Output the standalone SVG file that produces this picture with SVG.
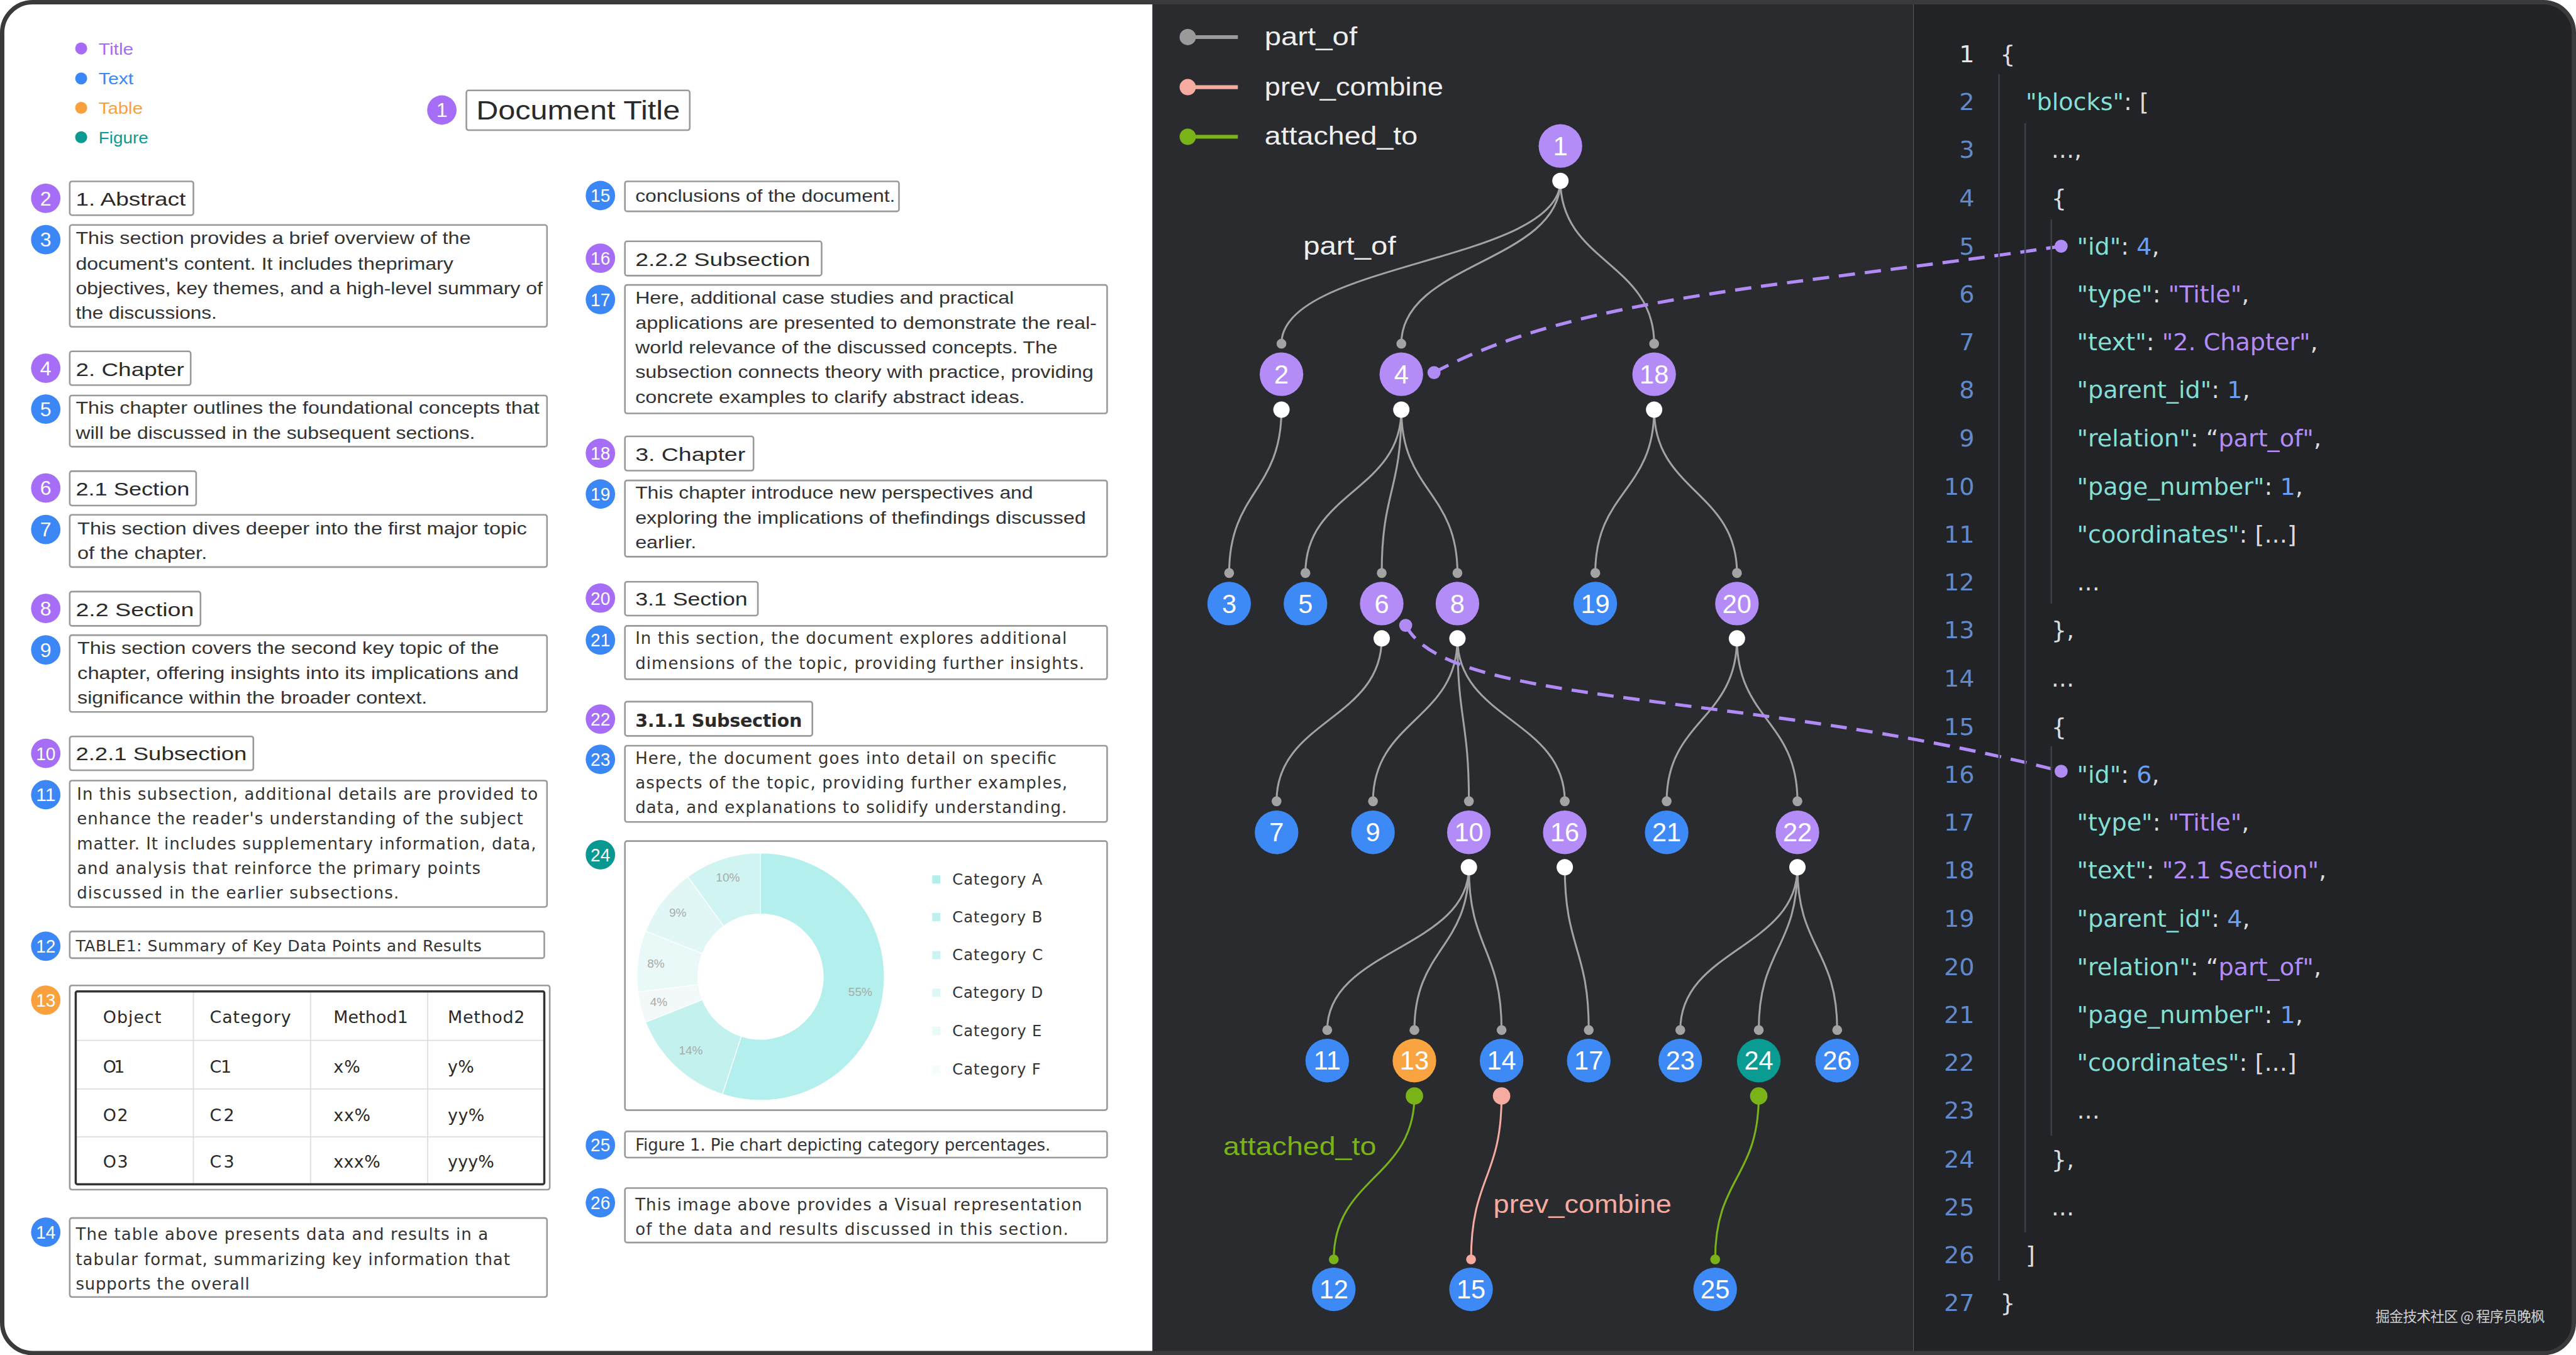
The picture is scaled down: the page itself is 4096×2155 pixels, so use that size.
<svg xmlns="http://www.w3.org/2000/svg" width="4096" height="2155" viewBox="0 0 4096 2155">
<defs>
<style>
.box{fill:#fff;stroke:#9a9a9a;stroke-width:3}
.t1{font-family:'Liberation Sans',Arial,sans-serif;font-size:31px;fill:#333}
.h1{font-family:'Liberation Sans',Arial,sans-serif;font-size:35px;fill:#2a2a2a}
.t2{font-family:'DejaVu Sans',sans-serif;font-size:30px;fill:#333}
.tb{font-family:'DejaVu Sans',sans-serif;font-size:31px;fill:#2a2a2a}
.bp{fill:#a66ef6}.bb{fill:#3b87f5}.bo{fill:#f9a03f}.bt{fill:#069891}
.bn{font-family:'Liberation Sans',Arial,sans-serif;font-size:37px;fill:#fff;text-anchor:middle}
.bn2{font-family:'Liberation Sans',Arial,sans-serif;font-size:34px;fill:#fff;text-anchor:middle}
.edge{fill:none;stroke:#a3a3a3;stroke-width:3.5}
.np{fill:#b48cf7}.nb{fill:#3d8af7}.no{fill:#f9a440}.nt{fill:#0a9b93}
.nd{font-family:'Liberation Sans',Arial,sans-serif;font-size:48px;fill:#fff;text-anchor:middle}
.wd{fill:#fff}.gd{fill:#a3a3a3}
.dash{fill:none;stroke:#b08af5;stroke-width:6;stroke-dasharray:30 18}
.lg{font-family:'Liberation Sans',Arial,sans-serif;font-size:46px;fill:#eeeeee}
.code{font-family:'DejaVu Sans',sans-serif;font-size:44px;fill:#dcdcdc}
.ln{font-family:'DejaVu Sans',sans-serif;font-size:44px;fill:#6289c9;text-anchor:end}
.k{fill:#86dfd5}.v{fill:#b48cf7}.n{fill:#6d9ff0}
.guide{stroke:#3c3f45;stroke-width:3}
.cell{stroke:#dddddd;stroke-width:2}
.pl{font-family:'Liberation Sans',Arial,sans-serif;font-size:22px;fill:#aaaaaa;text-anchor:middle}
</style>
<clipPath id="frame"><rect x="4" y="4" width="4720" height="2480" rx="56"/></clipPath>
</defs>
<g transform="scale(0.86633)">
<rect x="0" y="0" width="4728" height="2488" fill="#ffffff"/>
<g clip-path="url(#frame)">
<rect x="0" y="0" width="2115" height="2488" fill="#ffffff"/>
<rect x="2115" y="0" width="1397" height="2488" fill="#2a2b2f"/>
<rect x="3512" y="0" width="1216" height="2488" fill="#212326"/>
</g>
<rect x="4" y="4" width="4720" height="2480" rx="56" fill="none" stroke="#3a3a3c" stroke-width="8"/>

<!-- left legend -->
<g id="legend-left">
<circle cx="149" cy="89" r="11" fill="#a66cf5"/><text x="181" y="100" class="t1" style="fill:#a66cf5;font-size:30px" textLength="64" lengthAdjust="spacingAndGlyphs">Title</text>
<circle cx="149" cy="144" r="11" fill="#3a87f7"/><text x="181" y="155" class="t1" style="fill:#3a87f7;font-size:30px" textLength="64" lengthAdjust="spacingAndGlyphs">Text</text>
<circle cx="149" cy="198" r="11" fill="#f8a13c"/><text x="181" y="209" class="t1" style="fill:#f8a13c;font-size:30px" textLength="81" lengthAdjust="spacingAndGlyphs">Table</text>
<circle cx="149" cy="252" r="11" fill="#0b9a92"/><text x="181" y="263" class="t1" style="fill:#0b9a92;font-size:30px" textLength="91" lengthAdjust="spacingAndGlyphs">Figure</text>
</g>

<!-- left document blocks -->
<g id="block1"><circle cx="811" cy="202" r="27" class="bp"/><text x="811" y="215" class="bn">1</text>
<rect x="856" y="166" width="410" height="73" rx="4" class="box"/><text x="874" y="219" class="h1" style="font-size:48px" textLength="374" lengthAdjust="spacingAndGlyphs">Document Title</text></g>

<g id="block2"><circle cx="84" cy="364" r="27" class="bp"/><text x="84" y="377" class="bn">2</text>
<rect x="128" y="333" width="227" height="62" rx="4" class="box"/><text x="139" y="377" class="h1" textLength="202" lengthAdjust="spacingAndGlyphs">1. Abstract</text></g>

<g id="block3"><circle cx="84" cy="440" r="27" class="bb"/><text x="84" y="453" class="bn">3</text>
<rect x="128" y="413" width="876" height="187" rx="4" class="box"/>
<text x="139" y="448" class="t1" textLength="725" lengthAdjust="spacingAndGlyphs">This section provides a brief overview of the</text>
<text x="139" y="495" class="t1" textLength="693" lengthAdjust="spacingAndGlyphs">document's content. It includes theprimary</text>
<text x="139" y="540" class="t1" textLength="857" lengthAdjust="spacingAndGlyphs">objectives, key themes, and a high-level summary of</text>
<text x="139" y="585" class="t1" textLength="259" lengthAdjust="spacingAndGlyphs">the discussions.</text></g>

<g id="block4"><circle cx="84" cy="676" r="27" class="bp"/><text x="84" y="689" class="bn">4</text>
<rect x="128" y="645" width="222" height="62" rx="4" class="box"/><text x="139" y="690" class="h1" textLength="199" lengthAdjust="spacingAndGlyphs">2. Chapter</text></g>

<g id="block5"><circle cx="84" cy="751" r="27" class="bb"/><text x="84" y="764" class="bn">5</text>
<rect x="128" y="726" width="876" height="94" rx="4" class="box"/>
<text x="139" y="760" class="t1" textLength="851" lengthAdjust="spacingAndGlyphs">This chapter outlines the foundational concepts that</text>
<text x="139" y="806" class="t1" textLength="733" lengthAdjust="spacingAndGlyphs">will be discussed in the subsequent sections.</text></g>

<g id="block6"><circle cx="84" cy="896" r="27" class="bp"/><text x="84" y="909" class="bn">6</text>
<rect x="128" y="865" width="232" height="63" rx="4" class="box"/><text x="139" y="910" class="h1" textLength="209" lengthAdjust="spacingAndGlyphs">2.1 Section</text></g>

<g id="block7"><circle cx="84" cy="972" r="27" class="bb"/><text x="84" y="985" class="bn">7</text>
<rect x="128" y="945" width="876" height="96" rx="4" class="box"/>
<text x="142" y="981" class="t1" textLength="825" lengthAdjust="spacingAndGlyphs">This section dives deeper into the first major topic</text>
<text x="142" y="1026" class="t1" textLength="238" lengthAdjust="spacingAndGlyphs">of the chapter.</text></g>

<g id="block8"><circle cx="84" cy="1117" r="27" class="bp"/><text x="84" y="1130" class="bn">8</text>
<rect x="128" y="1086" width="240" height="63" rx="4" class="box"/><text x="139" y="1131" class="h1" textLength="217" lengthAdjust="spacingAndGlyphs">2.2 Section</text></g>

<g id="block9"><circle cx="84" cy="1193" r="27" class="bb"/><text x="84" y="1206" class="bn">9</text>
<rect x="128" y="1166" width="876" height="141" rx="4" class="box"/>
<text x="142" y="1201" class="t1" textLength="774" lengthAdjust="spacingAndGlyphs">This section covers the second key topic of the</text>
<text x="142" y="1247" class="t1" textLength="810" lengthAdjust="spacingAndGlyphs">chapter, offering insights into its implications and</text>
<text x="142" y="1292" class="t1" textLength="642" lengthAdjust="spacingAndGlyphs">significance within the broader context.</text></g>

<g id="block10"><circle cx="84" cy="1383" r="27" class="bp"/><text x="84" y="1395" class="bn2" textLength="36" lengthAdjust="spacingAndGlyphs">10</text>
<rect x="128" y="1352" width="337" height="62" rx="4" class="box"/><text x="139" y="1396" class="h1" textLength="314" lengthAdjust="spacingAndGlyphs">2.2.1 Subsection</text></g>

<g id="block11"><circle cx="84" cy="1459" r="27" class="bb"/><text x="84" y="1471" class="bn2" textLength="36" lengthAdjust="spacingAndGlyphs">11</text>
<rect x="128" y="1433" width="876" height="232" rx="4" class="box"/>
<text x="141" y="1468" class="t2" textLength="846">In this subsection, additional details are provided to</text>
<text x="141" y="1513" class="t2" textLength="819">enhance the reader's understanding of the subject</text>
<text x="141" y="1559" class="t2" textLength="843">matter. It includes supplementary information, data,</text>
<text x="141" y="1605" class="t2" textLength="741">and analysis that reinforce the primary points</text>
<text x="141" y="1650" class="t2" textLength="591">discussed in the earlier subsections.</text></g>

<g id="block12"><circle cx="84" cy="1737" r="27" class="bb"/><text x="84" y="1749" class="bn2" textLength="36" lengthAdjust="spacingAndGlyphs">12</text>
<rect x="128" y="1710" width="871" height="49" rx="4" class="box"/>
<text x="139" y="1746" class="t2" style="font-size:29px" textLength="745">TABLE1: Summary of Key Data Points and Results</text></g>

<g id="block13"><circle cx="84" cy="1836" r="27" class="bo"/><text x="84" y="1848" class="bn2" textLength="36" lengthAdjust="spacingAndGlyphs">13</text>
<rect x="128" y="1809" width="881" height="375" rx="4" class="box"/>
<line x1="355" y1="1820" x2="355" y2="2174" class="cell"/><line x1="570" y1="1820" x2="570" y2="2174" class="cell"/><line x1="785" y1="1820" x2="785" y2="2174" class="cell"/>
<line x1="139" y1="1910" x2="999" y2="1910" class="cell"/><line x1="139" y1="1999" x2="999" y2="1999" class="cell"/><line x1="139" y1="2087" x2="999" y2="2087" class="cell"/>
<rect x="139" y="1820" width="860" height="354" rx="3" fill="none" stroke="#333" stroke-width="4"/>
<text x="189" y="1878" class="tb" textLength="107">Object</text><text x="385" y="1878" class="tb" textLength="149">Category</text><text x="612" y="1878" class="tb" textLength="137">Method1</text><text x="822" y="1878" class="tb" textLength="141">Method2</text>
<text x="189" y="1969" class="tb" textLength="40">O1</text><text x="385" y="1969" class="tb" textLength="40">C1</text><text x="612" y="1969" class="tb" textLength="49">x%</text><text x="822" y="1969" class="tb" textLength="48">y%</text>
<text x="189" y="2058" class="tb" textLength="46">O2</text><text x="385" y="2058" class="tb" textLength="45">C2</text><text x="612" y="2058" class="tb" textLength="68">xx%</text><text x="822" y="2058" class="tb" textLength="67">yy%</text>
<text x="189" y="2144" class="tb" textLength="46">O3</text><text x="385" y="2144" class="tb" textLength="45">C3</text><text x="612" y="2144" class="tb" textLength="86">xxx%</text><text x="822" y="2144" class="tb" textLength="85">yyy%</text></g>

<g id="block14"><circle cx="84" cy="2262" r="27" class="bb"/><text x="84" y="2274" class="bn2" textLength="36" lengthAdjust="spacingAndGlyphs">14</text>
<rect x="128" y="2236" width="876" height="145" rx="4" class="box"/>
<text x="139" y="2276" class="t2" textLength="757">The table above presents data and results in a</text>
<text x="139" y="2322" class="t2" textLength="797">tabular format, summarizing key information that</text>
<text x="139" y="2367" class="t2" textLength="319">supports the overall</text></g>

<g id="block15"><circle cx="1102" cy="359" r="27" class="bb"/><text x="1102" y="371" class="bn2" textLength="36" lengthAdjust="spacingAndGlyphs">15</text>
<rect x="1147" y="333" width="503" height="55" rx="4" class="box"/>
<text x="1166" y="371" class="t1" textLength="477" lengthAdjust="spacingAndGlyphs">conclusions of the document.</text></g>

<g id="block16"><circle cx="1102" cy="474" r="27" class="bp"/><text x="1102" y="486" class="bn2" textLength="36" lengthAdjust="spacingAndGlyphs">16</text>
<rect x="1147" y="443" width="361" height="63" rx="4" class="box"/><text x="1166" y="488" class="h1" textLength="321" lengthAdjust="spacingAndGlyphs">2.2.2 Subsection</text></g>

<g id="block17"><circle cx="1102" cy="550" r="27" class="bb"/><text x="1102" y="562" class="bn2" textLength="36" lengthAdjust="spacingAndGlyphs">17</text>
<rect x="1147" y="523" width="885" height="236" rx="4" class="box"/>
<text x="1166" y="558" class="t1" textLength="695" lengthAdjust="spacingAndGlyphs">Here, additional case studies and practical</text>
<text x="1166" y="604" class="t1" textLength="847" lengthAdjust="spacingAndGlyphs">applications are presented to demonstrate the real-</text>
<text x="1166" y="649" class="t1" textLength="775" lengthAdjust="spacingAndGlyphs">world relevance of the discussed concepts. The</text>
<text x="1166" y="694" class="t1" textLength="841" lengthAdjust="spacingAndGlyphs">subsection connects theory with practice, providing</text>
<text x="1166" y="740" class="t1" textLength="715" lengthAdjust="spacingAndGlyphs">concrete examples to clarify abstract ideas.</text></g>

<g id="block18"><circle cx="1102" cy="832" r="27" class="bp"/><text x="1102" y="844" class="bn2" textLength="36" lengthAdjust="spacingAndGlyphs">18</text>
<rect x="1147" y="801" width="236" height="63" rx="4" class="box"/><text x="1166" y="846" class="h1" textLength="202" lengthAdjust="spacingAndGlyphs">3. Chapter</text></g>

<g id="block19"><circle cx="1102" cy="907" r="27" class="bb"/><text x="1102" y="919" class="bn2" textLength="36" lengthAdjust="spacingAndGlyphs">19</text>
<rect x="1147" y="882" width="885" height="140" rx="4" class="box"/>
<text x="1166" y="915" class="t1" textLength="730" lengthAdjust="spacingAndGlyphs">This chapter introduce new perspectives and</text>
<text x="1166" y="962" class="t1" textLength="827" lengthAdjust="spacingAndGlyphs">exploring the implications of thefindings discussed</text>
<text x="1166" y="1007" class="t1" textLength="112" lengthAdjust="spacingAndGlyphs">earlier.</text></g>

<g id="block20"><circle cx="1102" cy="1098" r="27" class="bp"/><text x="1102" y="1110" class="bn2" textLength="36" lengthAdjust="spacingAndGlyphs">20</text>
<rect x="1147" y="1068" width="244" height="62" rx="4" class="box"/><text x="1166" y="1112" class="h1" textLength="206" lengthAdjust="spacingAndGlyphs">3.1 Section</text></g>

<g id="block21"><circle cx="1102" cy="1175" r="27" class="bb"/><text x="1102" y="1187" class="bn2" textLength="36" lengthAdjust="spacingAndGlyphs">21</text>
<rect x="1147" y="1149" width="885" height="98" rx="4" class="box"/>
<text x="1166" y="1182" class="t2" textLength="792">In this section, the document explores additional</text>
<text x="1166" y="1228" class="t2" textLength="824">dimensions of the topic, providing further insights.</text></g>

<g id="block22"><circle cx="1102" cy="1320" r="27" class="bp"/><text x="1102" y="1332" class="bn2" textLength="36" lengthAdjust="spacingAndGlyphs">22</text>
<rect x="1147" y="1288" width="344" height="63" rx="4" class="box"/><text x="1166" y="1334" class="t2" style="font-size:33px;font-weight:bold;fill:#2a2a2a" textLength="306">3.1.1 Subsection</text></g>

<g id="block23"><circle cx="1102" cy="1394" r="27" class="bb"/><text x="1102" y="1406" class="bn2" textLength="36" lengthAdjust="spacingAndGlyphs">23</text>
<rect x="1147" y="1369" width="885" height="140" rx="4" class="box"/>
<text x="1166" y="1402" class="t2" textLength="773">Here, the document goes into detail on specific</text>
<text x="1166" y="1448" class="t2" textLength="793">aspects of the topic, providing further examples,</text>
<text x="1166" y="1492" class="t2" textLength="792">data, and explanations to solidify understanding.</text></g>

<g id="block24"><circle cx="1102" cy="1569" r="27" class="bt"/><text x="1102" y="1581" class="bn2" textLength="36" lengthAdjust="spacingAndGlyphs">24</text>
<rect x="1147" y="1544" width="885" height="494" rx="4" class="box"/>
<g stroke="#ffffff" stroke-width="1.5">
<path d="M1396 1566 A227 227 0 1 1 1325.9 2008.9 L1360.5 1902.4 A115 115 0 1 0 1396 1678 Z" fill="#b3efec"/>
<path d="M1325.9 2008.9 A227 227 0 0 1 1184.9 1876.6 L1289.1 1835.3 A115 115 0 0 0 1360.5 1902.4 Z" fill="#c2f1ee"/>
<path d="M1184.9 1876.6 A227 227 0 0 1 1170.8 1821.4 L1281.9 1807.4 A115 115 0 0 0 1289.1 1835.3 Z" fill="#f3f8f8"/>
<path d="M1170.8 1821.4 A227 227 0 0 1 1184.9 1709.4 L1289.1 1750.7 A115 115 0 0 0 1281.9 1807.4 Z" fill="#e9f9f8"/>
<path d="M1184.9 1709.4 A227 227 0 0 1 1262.6 1609.4 L1328.4 1700.0 A115 115 0 0 0 1289.1 1750.7 Z" fill="#e0f7f6"/>
<path d="M1262.6 1609.4 A227 227 0 0 1 1396 1566 L1396 1678 A115 115 0 0 0 1328.4 1700.0 Z" fill="#cff4f2"/>
</g>
<text x="1579" y="1828" class="pl">55%</text><text x="1268" y="1936" class="pl">14%</text><text x="1209" y="1847" class="pl">4%</text>
<text x="1204" y="1776" class="pl">8%</text><text x="1244" y="1683" class="pl">9%</text><text x="1336" y="1618" class="pl">10%</text>
<rect x="1711" y="1607" width="15" height="15" fill="#b2eeeb"/><text x="1748" y="1624" class="t2" style="font-size:28px" textLength="165">Category A</text>
<rect x="1711" y="1676" width="15" height="15" fill="#bff0ee"/><text x="1748" y="1693" class="t2" style="font-size:28px" textLength="165">Category B</text>
<rect x="1711" y="1746" width="15" height="15" fill="#cdf3f1"/><text x="1748" y="1763" class="t2" style="font-size:28px" textLength="166">Category C</text>
<rect x="1711" y="1815" width="15" height="15" fill="#dcf7f5"/><text x="1748" y="1832" class="t2" style="font-size:28px" textLength="166">Category D</text>
<rect x="1711" y="1885" width="15" height="15" fill="#e9faf9"/><text x="1748" y="1902" class="t2" style="font-size:28px" textLength="164">Category E</text>
<rect x="1711" y="1956" width="15" height="15" fill="#f6fcfc"/><text x="1748" y="1973" class="t2" style="font-size:28px" textLength="162">Category F</text></g>

<g id="block25"><circle cx="1102" cy="2102" r="27" class="bb"/><text x="1102" y="2114" class="bn2" textLength="36" lengthAdjust="spacingAndGlyphs">25</text>
<rect x="1147" y="2077" width="885" height="48" rx="4" class="box"/>
<text x="1166" y="2112" class="t2" textLength="762">Figure 1. Pie chart depicting category percentages.</text></g>

<g id="block26"><circle cx="1102" cy="2208" r="27" class="bb"/><text x="1102" y="2220" class="bn2" textLength="36" lengthAdjust="spacingAndGlyphs">26</text>
<rect x="1147" y="2181" width="885" height="100" rx="4" class="box"/>
<text x="1166" y="2222" class="t2" textLength="820">This image above provides a Visual representation</text>
<text x="1166" y="2267" class="t2" textLength="795">of the data and results discussed in this section.</text></g>

<!-- tree legend -->
<g id="legend-tree">
<line x1="2180" y1="68" x2="2272" y2="68" stroke="#9a9a9a" stroke-width="7"/><circle cx="2180" cy="68" r="15" fill="#9a9a9a"/>
<text x="2321" y="83" class="lg" textLength="170" lengthAdjust="spacingAndGlyphs">part_of</text>
<line x1="2180" y1="160" x2="2272" y2="160" stroke="#f5aba0" stroke-width="7"/><circle cx="2180" cy="160" r="15" fill="#f5aba0"/>
<text x="2321" y="175" class="lg" textLength="328" lengthAdjust="spacingAndGlyphs">prev_combine</text>
<line x1="2180" y1="251" x2="2272" y2="251" stroke="#7ab317" stroke-width="7"/><circle cx="2180" cy="251" r="15" fill="#7ab317"/>
<text x="2321" y="266" class="lg" textLength="281" lengthAdjust="spacingAndGlyphs">attached_to</text>
</g>

<!-- connectors -->
<g id="connectors">
<path class="edge" d="M2864 332 C2864 481.5 2352 481.5 2352 631"/>
<path class="edge" d="M2864 332 C2864 481.5 2572 481.5 2572 631"/>
<path class="edge" d="M2864 332 C2864 481.5 3036 481.5 3036 631"/>
<path class="edge" d="M2352 752 C2352 902 2256 902 2256 1052"/>
<path class="edge" d="M2572 752 C2572 902 2396 902 2396 1052"/>
<path class="edge" d="M2572 752 C2572 902 2536 902 2536 1052"/>
<path class="edge" d="M2572 752 C2572 902 2675 902 2675 1052"/>
<path class="edge" d="M3036 752 C3036 902 2928 902 2928 1052"/>
<path class="edge" d="M3036 752 C3036 902 3188 902 3188 1052"/>
<path class="edge" d="M2536 1172 C2536 1321.5 2343 1321.5 2343 1471"/>
<path class="edge" d="M2675 1172 C2675 1321.5 2520 1321.5 2520 1471"/>
<path class="edge" d="M2675 1172 C2675 1321.5 2696 1321.5 2696 1471"/>
<path class="edge" d="M2675 1172 C2675 1321.5 2872 1321.5 2872 1471"/>
<path class="edge" d="M3188 1172 C3188 1321.5 3059 1321.5 3059 1471"/>
<path class="edge" d="M3188 1172 C3188 1321.5 3299 1321.5 3299 1471"/>
<path class="edge" d="M2696 1592 C2696 1741.5 2436 1741.5 2436 1891"/>
<path class="edge" d="M2696 1592 C2696 1741.5 2596 1741.5 2596 1891"/>
<path class="edge" d="M2696 1592 C2696 1741.5 2756 1741.5 2756 1891"/>
<path class="edge" d="M2872 1592 C2872 1741.5 2916 1741.5 2916 1891"/>
<path class="edge" d="M3299 1592 C3299 1741.5 3084 1741.5 3084 1891"/>
<path class="edge" d="M3299 1592 C3299 1741.5 3228 1741.5 3228 1891"/>
<path class="edge" d="M3299 1592 C3299 1741.5 3372 1741.5 3372 1891"/>
<path class="edge" style="stroke:#7ab317" d="M2596 2012 C2596 2162 2448 2162 2448 2312"/>
<path class="edge" style="stroke:#f5aba0" d="M2756 2012 C2756 2162 2700 2162 2700 2312"/>
<path class="edge" style="stroke:#7ab317" d="M3228 2012 C3228 2162 3148 2162 3148 2312"/>
<g class="gd">
<circle cx="2352" cy="631" r="9"/><circle cx="2572" cy="631" r="9"/><circle cx="3036" cy="631" r="9"/>
<circle cx="2256" cy="1052" r="9"/><circle cx="2396" cy="1052" r="9"/><circle cx="2536" cy="1052" r="9"/><circle cx="2675" cy="1052" r="9"/><circle cx="2928" cy="1052" r="9"/><circle cx="3188" cy="1052" r="9"/>
<circle cx="2343" cy="1471" r="9"/><circle cx="2520" cy="1471" r="9"/><circle cx="2696" cy="1471" r="9"/><circle cx="2872" cy="1471" r="9"/><circle cx="3059" cy="1471" r="9"/><circle cx="3299" cy="1471" r="9"/>
<circle cx="2436" cy="1891" r="9"/><circle cx="2596" cy="1891" r="9"/><circle cx="2756" cy="1891" r="9"/><circle cx="2916" cy="1891" r="9"/><circle cx="3084" cy="1891" r="9"/><circle cx="3228" cy="1891" r="9"/><circle cx="3372" cy="1891" r="9"/>
</g>
<g class="wd">
<circle cx="2864" cy="332" r="15"/><circle cx="2352" cy="752" r="15"/><circle cx="2572" cy="752" r="15"/><circle cx="3036" cy="752" r="15"/>
<circle cx="2536" cy="1172" r="15"/><circle cx="2675" cy="1172" r="15"/><circle cx="3188" cy="1172" r="15"/>
<circle cx="2696" cy="1592" r="15"/><circle cx="2872" cy="1592" r="15"/><circle cx="3299" cy="1592" r="15"/>
</g>
<circle cx="2596" cy="2012" r="16" fill="#7ab317"/><circle cx="2448" cy="2312" r="9" fill="#7ab317"/>
<circle cx="2756" cy="2012" r="16" fill="#f5aba0"/><circle cx="2700" cy="2312" r="9" fill="#f5aba0"/>
<circle cx="3228" cy="2012" r="16" fill="#7ab317"/><circle cx="3148" cy="2312" r="9" fill="#7ab317"/>
<text x="2392" y="468" class="lg" textLength="170" lengthAdjust="spacingAndGlyphs">part_of</text>
<text x="2245" y="2120" class="lg" style="fill:#7ab317" textLength="281" lengthAdjust="spacingAndGlyphs">attached_to</text>
<text x="2741" y="2227" class="lg" style="fill:#f5aba0" textLength="327" lengthAdjust="spacingAndGlyphs">prev_combine</text>
<path class="dash" d="M2632 684 C2900 540 3300 525 3783 452"/>
<path class="dash" d="M2580 1148 C2660 1300 3200 1265 3783 1416"/>
<circle cx="2632" cy="684" r="12" fill="#b08af5"/><circle cx="2580" cy="1148" r="12" fill="#b08af5"/>
<circle cx="3783" cy="452" r="12" fill="#b08af5"/><circle cx="3783" cy="1416" r="12" fill="#b08af5"/>
</g>

<!-- tree nodes -->
<g id="n1"><circle cx="2864" cy="268" r="40" class="np"/><text x="2864" y="285" class="nd">1</text></g>
<g id="n2"><circle cx="2352" cy="687" r="40" class="np"/><text x="2352" y="704" class="nd">2</text></g>
<g id="n4"><circle cx="2572" cy="687" r="40" class="np"/><text x="2572" y="704" class="nd">4</text></g>
<g id="n18"><circle cx="3036" cy="687" r="40" class="np"/><text x="3036" y="704" class="nd">18</text></g>
<g id="n3"><circle cx="2256" cy="1108" r="40" class="nb"/><text x="2256" y="1125" class="nd">3</text></g>
<g id="n5"><circle cx="2396" cy="1108" r="40" class="nb"/><text x="2396" y="1125" class="nd">5</text></g>
<g id="n6"><circle cx="2536" cy="1108" r="40" class="np"/><text x="2536" y="1125" class="nd">6</text></g>
<g id="n8"><circle cx="2675" cy="1108" r="40" class="np"/><text x="2675" y="1125" class="nd">8</text></g>
<g id="n19"><circle cx="2928" cy="1108" r="40" class="nb"/><text x="2928" y="1125" class="nd">19</text></g>
<g id="n20"><circle cx="3188" cy="1108" r="40" class="np"/><text x="3188" y="1125" class="nd">20</text></g>
<g id="n7"><circle cx="2343" cy="1528" r="40" class="nb"/><text x="2343" y="1545" class="nd">7</text></g>
<g id="n9"><circle cx="2520" cy="1528" r="40" class="nb"/><text x="2520" y="1545" class="nd">9</text></g>
<g id="n10"><circle cx="2696" cy="1528" r="40" class="np"/><text x="2696" y="1545" class="nd">10</text></g>
<g id="n16"><circle cx="2872" cy="1528" r="40" class="np"/><text x="2872" y="1545" class="nd">16</text></g>
<g id="n21"><circle cx="3059" cy="1528" r="40" class="nb"/><text x="3059" y="1545" class="nd">21</text></g>
<g id="n22"><circle cx="3299" cy="1528" r="40" class="np"/><text x="3299" y="1545" class="nd">22</text></g>
<g id="n11"><circle cx="2436" cy="1947" r="40" class="nb"/><text x="2436" y="1964" class="nd">11</text></g>
<g id="n13"><circle cx="2596" cy="1947" r="40" class="no"/><text x="2596" y="1964" class="nd">13</text></g>
<g id="n14"><circle cx="2756" cy="1947" r="40" class="nb"/><text x="2756" y="1964" class="nd">14</text></g>
<g id="n17"><circle cx="2916" cy="1947" r="40" class="nb"/><text x="2916" y="1964" class="nd">17</text></g>
<g id="n23"><circle cx="3084" cy="1947" r="40" class="nb"/><text x="3084" y="1964" class="nd">23</text></g>
<g id="n24"><circle cx="3228" cy="1947" r="40" class="nt"/><text x="3228" y="1964" class="nd">24</text></g>
<g id="n26"><circle cx="3372" cy="1947" r="40" class="nb"/><text x="3372" y="1964" class="nd">26</text></g>
<g id="n12"><circle cx="2448" cy="2367" r="40" class="nb"/><text x="2448" y="2384" class="nd">12</text></g>
<g id="n15"><circle cx="2700" cy="2367" r="40" class="nb"/><text x="2700" y="2384" class="nd">15</text></g>
<g id="n25"><circle cx="3148" cy="2367" r="40" class="nb"/><text x="3148" y="2384" class="nd">25</text></g>

<!-- code panel -->
<g id="code">
<line x1="3669" y1="136" x2="3669" y2="2351" class="guide"/>
<line x1="3717" y1="226" x2="3717" y2="2262" class="guide"/>
<line x1="3765" y1="403" x2="3765" y2="1108" class="guide"/>
<line x1="3765" y1="1370" x2="3765" y2="2085" class="guide"/>
<text x="3624" y="114" class="ln" style="fill:#e6e6e6">1</text>
<text x="3624" y="202" class="ln">2</text><text x="3624" y="290" class="ln">3</text><text x="3624" y="379" class="ln">4</text>
<text x="3624" y="467" class="ln">5</text><text x="3624" y="555" class="ln">6</text><text x="3624" y="643" class="ln">7</text>
<text x="3624" y="731" class="ln">8</text><text x="3624" y="820" class="ln">9</text><text x="3624" y="908" class="ln">10</text>
<text x="3624" y="996" class="ln">11</text><text x="3624" y="1084" class="ln">12</text><text x="3624" y="1172" class="ln">13</text>
<text x="3624" y="1261" class="ln">14</text><text x="3624" y="1349" class="ln">15</text><text x="3624" y="1437" class="ln">16</text>
<text x="3624" y="1525" class="ln">17</text><text x="3624" y="1613" class="ln">18</text><text x="3624" y="1702" class="ln">19</text>
<text x="3624" y="1790" class="ln">20</text><text x="3624" y="1878" class="ln">21</text><text x="3624" y="1966" class="ln">22</text>
<text x="3624" y="2054" class="ln">23</text><text x="3624" y="2143" class="ln">24</text><text x="3624" y="2231" class="ln">25</text>
<text x="3624" y="2319" class="ln">26</text><text x="3624" y="2407" class="ln">27</text>
<text x="3671" y="114" class="code">{</text>
<text x="3718" y="202" class="code"><tspan class="k">"blocks"</tspan>: [</text>
<text x="3765" y="290" class="code">...,</text>
<text x="3765" y="379" class="code">{</text>
<text x="3812" y="467" class="code"><tspan class="k">"id"</tspan>: <tspan class="n">4</tspan>,</text>
<text x="3812" y="555" class="code"><tspan class="k">"type"</tspan>: <tspan class="v">"Title"</tspan>,</text>
<text x="3812" y="643" class="code"><tspan class="k">"text"</tspan>: <tspan class="v">"2. Chapter"</tspan>,</text>
<text x="3812" y="731" class="code"><tspan class="k">"parent_id"</tspan>: <tspan class="n">1</tspan>,</text>
<text x="3812" y="820" class="code"><tspan class="k">"relation"</tspan>: “<tspan class="v">part_of"</tspan>,</text>
<text x="3812" y="908" class="code"><tspan class="k">"page_number"</tspan>: <tspan class="n">1</tspan>,</text>
<text x="3812" y="996" class="code"><tspan class="k">"coordinates"</tspan>: [...]</text>
<text x="3812" y="1084" class="code">...</text>
<text x="3765" y="1172" class="code">},</text>
<text x="3765" y="1261" class="code">...</text>
<text x="3765" y="1349" class="code">{</text>
<text x="3812" y="1437" class="code"><tspan class="k">"id"</tspan>: <tspan class="n">6</tspan>,</text>
<text x="3812" y="1525" class="code"><tspan class="k">"type"</tspan>: <tspan class="v">"Title"</tspan>,</text>
<text x="3812" y="1613" class="code"><tspan class="k">"text"</tspan>: <tspan class="v">"2.1 Section"</tspan>,</text>
<text x="3812" y="1702" class="code"><tspan class="k">"parent_id"</tspan>: <tspan class="n">4</tspan>,</text>
<text x="3812" y="1790" class="code"><tspan class="k">"relation"</tspan>: “<tspan class="v">part_of"</tspan>,</text>
<text x="3812" y="1878" class="code"><tspan class="k">"page_number"</tspan>: <tspan class="n">1</tspan>,</text>
<text x="3812" y="1966" class="code"><tspan class="k">"coordinates"</tspan>: [...]</text>
<text x="3812" y="2054" class="code">...</text>
<text x="3765" y="2143" class="code">},</text>
<text x="3765" y="2231" class="code">...</text>
<text x="3718" y="2319" class="code">]</text>
<text x="3671" y="2407" class="code">}</text>
</g>
<text x="4360" y="2426" style="font-family:'Noto Sans CJK SC','Noto Sans',sans-serif;font-size:26px;fill:#d0d0d0" textLength="311">掘金技术社区 @ 程序员晚枫</text>
</g>
</svg>
